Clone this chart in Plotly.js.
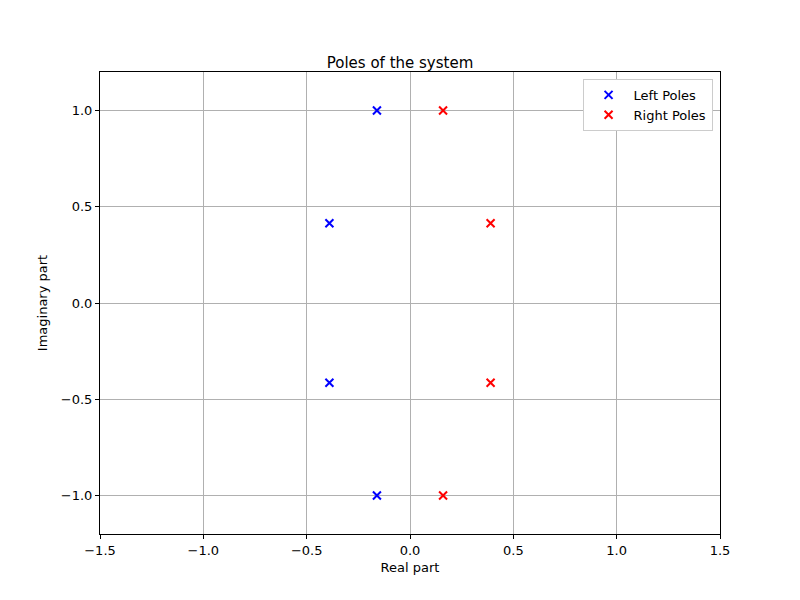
<!DOCTYPE html>
<html><head><script src="https://cdn.plot.ly/plotly-3.0.1.min.js"></script>
<style>body{margin:0}</style></head><body>
<div id="c" style="width:800px;height:600px"></div>
<script>
const leftReal=[-0.16,-0.39,-0.39,-0.16];
const leftImag=[1.0,0.414,-0.414,-1.0];
const rightReal=[0.16,0.39,0.39,0.16];
const rightImag=[1.0,0.414,-0.414,-1.0];
const xTicks=[-1.5,-1.0,-0.5,0.0,0.5,1.0,1.5];
const yTicks=[-1.0,-0.5,0.0,0.5,1.0];
const mk=c=>({symbol:'x-thin',size:8,line:{color:c,width:2},color:c});
const data=[
{x:leftReal,y:leftImag,mode:'markers',type:'scatter',name:'Left Poles',marker:mk('blue')},
{x:rightReal,y:rightImag,mode:'markers',type:'scatter',name:'Right Poles',marker:mk('red')}];
const ax={showgrid:true,gridcolor:'#b0b0b0',gridwidth:1,zeroline:false,showline:true,mirror:true,linecolor:'black',ticks:'outside',ticklen:4,tickcolor:'black',tickfont:{size:13,color:'black'}};
const layout={width:800,height:600,paper_bgcolor:'white',plot_bgcolor:'white',
font:{family:'DejaVu Sans',color:'black'},
margin:{l:100,r:80,t:72,b:66},
title:{text:'Poles of the system',x:0.5,xanchor:'center',y:0.887,yanchor:'bottom',font:{size:15}},
xaxis:Object.assign({},ax,{range:[-1.5,1.5],tickvals:xTicks,ticktext:xTicks.map(v=>v.toFixed(1).replace('-','−')),title:{text:'Real part',font:{size:13},standoff:6}}),
yaxis:Object.assign({},ax,{range:[-1.2,1.2],tickvals:yTicks,ticktext:yTicks.map(v=>v.toFixed(1).replace('-','−')),title:{text:'Imaginary part',font:{size:13},standoff:10}}),
legend:{x:0.988,y:0.985,xanchor:'right',yanchor:'top',bordercolor:'#cccccc',borderwidth:1,bgcolor:'white',font:{size:13},tracegroupgap:0,itemwidth:40},
showlegend:true};
Plotly.newPlot('c',data,layout,{displayModeBar:false});
</script></body></html>
